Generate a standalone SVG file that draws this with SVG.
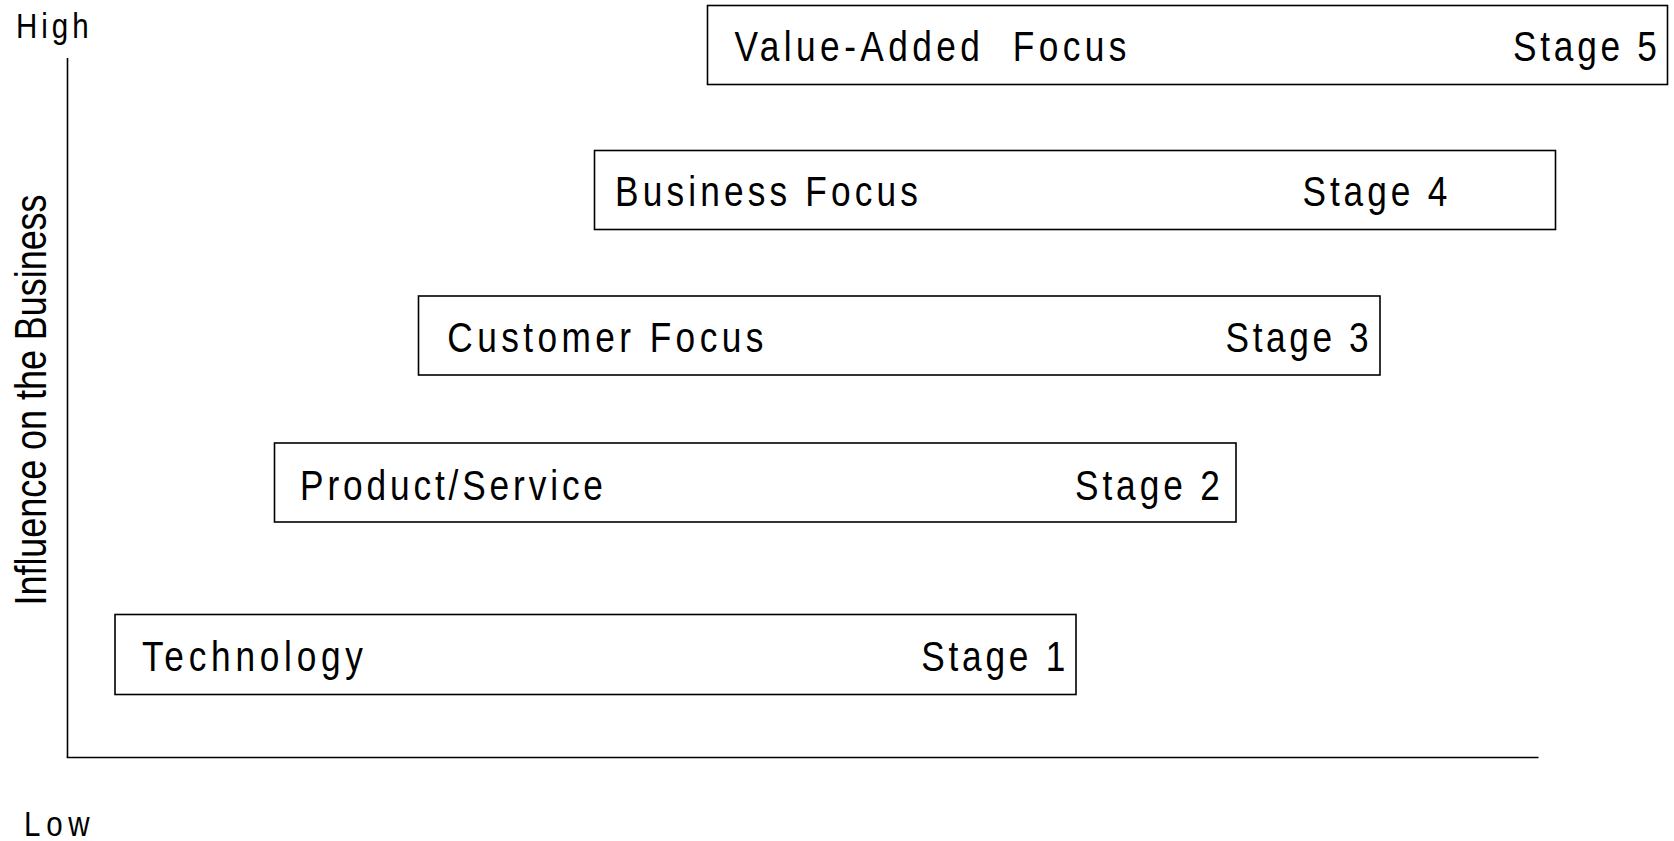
<svg xmlns="http://www.w3.org/2000/svg" width="1674" height="841" viewBox="0 0 1674 841">
  <style>
    .box { fill: #ffffff; stroke: #000000; stroke-width: 1.6; }
    .lbl { font-family: "Liberation Sans", Arial, sans-serif; font-size: 43px; fill: #000000; }
    .ax { font-family: "Liberation Sans", Arial, sans-serif; font-size: 36px; fill: #000000; }
    .ylab { font-family: "Liberation Sans", Arial, sans-serif; font-size: 45px; fill: #000000; }
    .axis { stroke: #000000; stroke-width: 1.6; fill: none; }
  </style>
  <rect x="0" y="0" width="1674" height="841" fill="#ffffff"/>

  <g id="axes">
    <line class="axis" x1="67.5" y1="58" x2="67.5" y2="757.5"/>
    <line class="axis" x1="66.7" y1="757.5" x2="1538.5" y2="757.5"/>
    <text class="ax" transform="translate(16,37.5) scale(0.82,1)" textLength="88.5" lengthAdjust="spacing">High</text>
    <text class="ax" transform="translate(24,836) scale(0.82,1)" textLength="80" lengthAdjust="spacing">Low</text>
    <text class="ylab" transform="translate(46,400) rotate(-90)" text-anchor="middle" textLength="411" lengthAdjust="spacingAndGlyphs">Influence on the Business</text>
  </g>

  <g id="stage5">
    <rect class="box" x="707.5" y="5.5" width="960" height="79"/>
    <text class="lbl" transform="translate(734.5,61) scale(0.82,1)" textLength="478" lengthAdjust="spacing" xml:space="preserve" style="white-space:pre">Value-Added  Focus</text>
    <text class="lbl" transform="translate(1513,61) scale(0.82,1)" textLength="175.6" lengthAdjust="spacing">Stage 5</text>
  </g>

  <g id="stage4">
    <rect class="box" x="594.5" y="150.5" width="961" height="79"/>
    <text class="lbl" transform="translate(615,206) scale(0.82,1)" textLength="369.5" lengthAdjust="spacing">Business Focus</text>
    <text class="lbl" transform="translate(1302.5,206) scale(0.82,1)" textLength="176.8" lengthAdjust="spacing">Stage 4</text>
  </g>

  <g id="stage3">
    <rect class="box" x="418.5" y="296" width="961.5" height="79"/>
    <text class="lbl" transform="translate(447.3,352) scale(0.82,1)" textLength="385.4" lengthAdjust="spacing">Customer Focus</text>
    <text class="lbl" transform="translate(1225.6,352) scale(0.82,1)" textLength="174.4" lengthAdjust="spacing">Stage 3</text>
  </g>

  <g id="stage2">
    <rect class="box" x="274.5" y="443" width="961.5" height="79"/>
    <text class="lbl" transform="translate(300,499.5) scale(0.82,1)" textLength="369.5" lengthAdjust="spacing">Product/Service</text>
    <text class="lbl" transform="translate(1075,499.5) scale(0.82,1)" textLength="176.8" lengthAdjust="spacing">Stage 2</text>
  </g>

  <g id="stage1">
    <rect class="box" x="115" y="614.5" width="961" height="80"/>
    <text class="lbl" transform="translate(142,670.5) scale(0.82,1)" textLength="269.5" lengthAdjust="spacing">Technology</text>
    <text class="lbl" transform="translate(921.3,670.5) scale(0.82,1)" textLength="175.6" lengthAdjust="spacing">Stage 1</text>
  </g>

  <g id="connectors"/>
</svg>
